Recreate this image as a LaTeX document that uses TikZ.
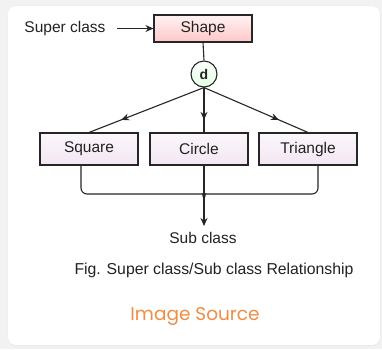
\documentclass[tikz,border=0pt]{standalone}
\usepackage{fontspec}
\setmainfont{Liberation Sans}
\newfontfamily\srcfont{Poppins}
\usetikzlibrary{arrows.meta,decorations.markings,calc}
\definecolor{txt}{HTML}{222222}
\definecolor{orangesrc}{HTML}{F08C44}
\tikzset{
  lbl/.style={font=\fontsize{15.5}{18}\selectfont, text=txt},
  classbox/.style={draw=black!85, line width=1.1pt, minimum width=98pt, minimum height=32pt,
    inner sep=0pt, lbl},
  superbox/.style={classbox, minimum height=27pt, top color=red!5, bottom color=red!22},
  subbox/.style={classbox, top color=violet!3, bottom color=violet!10},
  disjoint/.style={circle, draw=black!85, line width=1.1pt, minimum size=26pt, inner sep=0pt,
    top color=green!2, bottom color=green!10, font=\fontsize{14}{16}\selectfont\bfseries, text=txt},
  conn/.style={draw=black!85, line width=1.1pt},
  midarrow/.style={conn, postaction={decorate}, decoration={markings,
    mark=at position #1 with {\arrow{Stealth[length=8pt,width=7pt]}}}},
}
\begin{document}
\begin{tikzpicture}[x=1pt,y=-1pt]
  % page and card
  \fill[black!5] (0,0) rectangle (382,349);
  \fill[black!8, rounded corners=9pt] (7.5,5.5) rectangle (381,346.5);
  \fill[white, rounded corners=8pt] (8,6) rectangle (380,345);

  % superclass
  \node[superbox] (shape) at (203,28.5) {Shape};
  \node[lbl, anchor=east] (sup) at (109,28.5) {Super class};
  \draw[conn, -{Stealth[length=8pt,width=7pt]}] (sup.east) ++(8,0) -- (shape.west);

  % disjointness circle
  \node[disjoint] (d) at (204,74) {d};
  \draw[conn] (shape.south) -- (d.north);

  % subclasses
  \node[subbox] (sq) at (89,149) {Square};
  \node[subbox] (ci) at (199,149) {Circle};
  \node[subbox] (tr) at (308,149) {Triangle};

  \path[midarrow=0.72] (d.south) -- (sq.north);
  \path[midarrow=0.72] (d.south) -- (d.south |- sq.north);
  \path[midarrow=0.72] (d.south) -- (tr.north);

  % grouping brace
  \coordinate (bl) at ($(sq.south)+(-8,0)$);
  \coordinate (br) at ($(tr.south)+(10,0)$);
  \coordinate (cusp) at (204,200);
  \draw[conn, rounded corners=6pt] (bl) -- (bl |- 0,194) -- (198,194) to[out=0,in=90] (cusp);
  \draw[conn, rounded corners=6pt] (br) -- (br |- 0,194) -- (210,194) to[out=180,in=90] (cusp);
  \coordinate (tip) at (204,226);
  \draw[conn, -{Stealth[length=8pt,width=7pt]}] (204,165) -- (tip);
  \node[lbl, anchor=north] (sub) at (203,229) {Sub class};

  % caption
  \node[lbl, font=\fontsize{15.8}{18}\selectfont] (cap) at (214,270) {Fig. Super class/Sub class Relationship};
  \node[font=\srcfont\fontsize{18.5}{20}\selectfont, text=orangesrc] (src) at (195,316) {Image Source};
\end{tikzpicture}
\end{document}
